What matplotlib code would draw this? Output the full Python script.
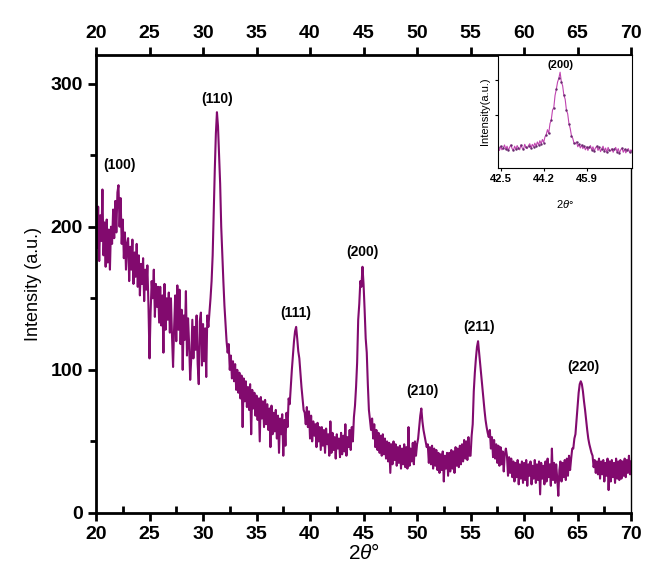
import numpy as np
import matplotlib
matplotlib.use('Agg')
import matplotlib.pyplot as plt
from matplotlib.ticker import MultipleLocator

plt.rcParams['font.family'] = ['Liberation Sans', 'DejaVu Sans']
plt.rcParams['mathtext.fontset'] = 'custom'
plt.rcParams['mathtext.it'] = 'Liberation Sans:italic'

# scan grid 20..70 deg, step 0.1
two_theta = np.round(np.arange(200, 701) * 0.1, 1)

# intensities, one row per degree
intensity = [
    222, 185, 214, 176, 208, 190, 226, 180, 203, 172,   # 20
    205, 175, 198, 170, 200, 188, 212, 192, 218, 196,   # 21
    224, 229, 200, 220, 188, 205, 178, 196, 170, 188,   # 22
    192, 162, 186, 170, 191, 160, 182, 165, 188, 158,   # 23
    180, 152, 174, 160, 178, 148, 170, 156, 173, 145,   # 24
    108, 140, 162, 150, 170, 137, 160, 144, 158, 133,   # 25
    158, 131, 152, 112, 160, 128, 150, 135, 154, 126,   # 26
    150, 124, 102, 130, 152, 120, 159, 128, 156, 118,   # 27
    142, 100, 138, 121, 155, 110, 136, 118, 93, 108,    # 28
    135, 108, 130, 114, 138, 104, 90, 134, 140, 103,    # 29
    132, 106, 129, 95, 138, 130, 140, 150, 162, 180,    # 30
    210, 240, 265, 280, 270, 250, 230, 200, 180, 162,   # 31
    145, 132, 120, 112, 118, 100, 110, 94, 106, 92,     # 32
    104, 86, 100, 84, 98, 80, 96, 60, 94, 78,           # 33
    92, 74, 88, 72, 90, 55, 86, 73, 84, 68,             # 34
    82, 65, 80, 50, 81, 66, 78, 60, 79, 62,             # 35
    76, 58, 73, 46, 75, 55, 70, 57, 72, 52,             # 36
    68, 42, 66, 55, 69, 40, 65, 47, 70, 60,             # 37
    80, 76, 88, 100, 110, 120, 127, 130, 122, 113,      # 38
    108, 98, 88, 80, 72, 70, 62, 74, 60, 71,            # 39
    52, 68, 50, 64, 54, 62, 46, 63, 50, 60,             # 40
    44, 60, 47, 58, 42, 59, 48, 55, 40, 64,             # 41
    42, 56, 44, 53, 38, 55, 45, 52, 39, 56,             # 42
    41, 54, 43, 62, 40, 53, 46, 58, 44, 60,             # 43
    50, 67, 75, 88, 105, 135, 146, 162, 158, 172,       # 44
    160, 142, 122, 112, 90, 72, 65, 58, 66, 52,         # 45
    62, 46, 58, 44, 56, 42, 54, 40, 55, 41,             # 46
    52, 38, 50, 36, 49, 28, 48, 34, 50, 37,             # 47
    48, 33, 46, 35, 47, 31, 45, 34, 48, 32,             # 48
    46, 31, 60, 33, 45, 36, 49, 34, 50, 40,             # 49
    48, 52, 60, 68, 73, 64, 58, 54, 50, 46,             # 50
    48, 35, 46, 34, 47, 31, 45, 33, 44, 30,             # 51
    42, 28, 41, 30, 43, 22, 40, 31, 42, 26,             # 52
    42, 29, 44, 31, 43, 28, 46, 33, 45, 32,             # 53
    47, 34, 48, 36, 51, 38, 50, 37, 53, 40,             # 54
    40, 54, 62, 85, 98, 108, 116, 120, 112, 104,        # 55
    96, 88, 80, 72, 65, 60, 56, 53, 58, 45,             # 56
    53, 39, 51, 38, 48, 35, 47, 33, 46, 34,             # 57
    43, 29, 41, 45, 40, 26, 39, 28, 38, 25,             # 58
    36, 22, 35, 25, 37, 20, 34, 24, 36, 21,             # 59
    35, 23, 37, 19, 34, 26, 36, 20, 33, 24,             # 60
    37, 21, 34, 23, 36, 13, 35, 24, 33, 20,             # 61
    36, 22, 38, 25, 34, 19, 45, 23, 35, 21,             # 62
    34, 24, 12, 30, 36, 22, 35, 25, 37, 23,             # 63
    38, 26, 40, 30, 38, 45, 45, 52, 55, 65,             # 64
    75, 84, 90, 92, 90, 85, 78, 72, 65, 58,             # 65
    52, 48, 45, 42, 40, 32, 37, 28, 36, 27,             # 66
    38, 24, 36, 27, 37, 22, 35, 26, 38, 16,             # 67
    36, 22, 37, 25, 35, 21, 38, 24, 36, 23,             # 68
    37, 24, 36, 26, 38, 25, 37, 28, 40, 27,             # 69
    36,                                                 # 70
]

peak_labels = ['(100)', '(110)', '(111)', '(200)', '(210)', '(211)', '(220)']
peak_pos = [22.2, 31.3, 38.7, 44.9, 50.5, 55.8, 65.5]
peak_label_y = [243, 289, 140, 182, 85, 130, 102]

# inset: (200) reflection, 42.40..47.70 step 0.05
inset_theta = np.round(np.arange(848, 955) * 0.05, 2)
inset_intensity = [
    52, 46, 53, 47, 50, 55, 48, 53, 46, 51,
    55, 49, 46, 53, 48, 54, 50, 47, 55, 50,
    48, 56, 51, 49, 54, 57, 50, 56, 52, 58,
    53, 60, 55, 62, 57, 64, 59, 68, 72, 80,
    74, 90, 96, 112, 116, 136, 146, 158, 164, 174,
    158, 152, 136, 130, 112, 106, 90, 82, 70, 66,
    58, 57, 60, 52, 56, 50, 55, 49, 53, 47,
    52, 46, 51, 54, 47, 52, 45, 50, 53, 46,
    51, 44, 49, 53, 45, 50, 43, 51, 46, 45,
    49, 43, 48, 51, 44, 49, 42, 47, 50, 43,
    48, 42, 47, 49, 43, 47, 45,
]
inset_ticks = [42.5, 44.2, 45.9]

color = '#820a6e'

fig = plt.figure(figsize=(6.47, 5.74), dpi=100)
ax = fig.add_axes([0.1484, 0.1063, 0.827, 0.798])
ax.plot(two_theta, intensity, color=color, lw=1.5)
ax.set_xlim(20, 70)
ax.set_ylim(0, 320)

for lab, xp, yp in zip(peak_labels, peak_pos, peak_label_y):
    ax.text(xp, yp, lab, ha='center', va='center', fontsize=10, fontweight='bold')

for s in ax.spines.values():
    s.set_linewidth(2)
ax.spines['right'].set_linewidth(1)

ax.xaxis.set_major_locator(MultipleLocator(5))
ax.xaxis.set_minor_locator(MultipleLocator(2.5))
ax.yaxis.set_major_locator(MultipleLocator(100))
ax.yaxis.set_minor_locator(MultipleLocator(50))
ax.tick_params(axis='x', which='major', direction='out', length=6, width=2,
               labelsize=14, top=True, labeltop=True)
ax.tick_params(axis='x', which='minor', direction='in', length=5, width=2, top=False)
ax.tick_params(axis='y', which='major', direction='out', length=6, width=2, labelsize=14)
ax.tick_params(axis='y', which='minor', direction='out', length=4, width=2)
for t in ax.xaxis.get_majorticklabels() + ax.yaxis.get_majorticklabels():
    t.set_fontweight('bold')

ax.set_xlabel(r'2$\it{\theta}$°', fontsize=15, labelpad=0)
ax.set_ylabel('Intensity (a.u.)', fontsize=13, labelpad=6)

# inset
axi = fig.add_axes([0.770, 0.707, 0.207, 0.197])
axi.plot(inset_theta, inset_intensity, color='#c044b0', lw=0.8)
axi.plot(inset_theta[::2], inset_intensity[::2], ls='none', marker='.', ms=1.5,
         color='#6a2a70')
axi.set_xlim(42.4, 47.7)
axi.set_ylim(17, 202)
axi.set_xticks(inset_ticks)
axi.set_xticklabels([str(v) for v in inset_ticks], fontsize=8, fontweight='bold')
axi.set_yticks([104, 161])
axi.set_yticklabels([])
axi.tick_params(length=2, width=0.8, pad=2)
axi.text(44.87, 185, '(200)', ha='center', va='center', fontsize=8, fontweight='bold')
axi.set_xlabel(r'2$\theta$°', fontsize=8, labelpad=10)
axi.set_ylabel('Intensity(a.u.)', fontsize=8, labelpad=2)
for s in axi.spines.values():
    s.set_linewidth(0.8)

fig.savefig('out.png', dpi=100)
